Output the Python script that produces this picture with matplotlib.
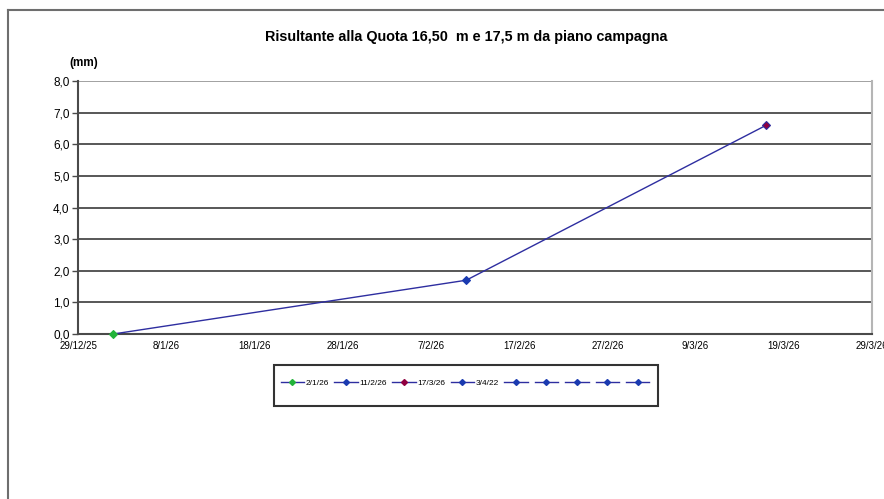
import matplotlib
matplotlib.use("Agg")
import matplotlib.pyplot as plt
from matplotlib.lines import Line2D
from matplotlib.patches import Rectangle
from datetime import datetime

plt.rcParams['font.family'] = ['Liberation Sans', 'DejaVu Sans']

# data
dates = ['2026-01-02', '2026-02-11', '2026-03-17']
values = [0.0, 1.7, 6.6]
marker_colors = ['#22b33a', '#1a3ab0', '#900040']

legend_labels = ['2/1/26', '11/2/26', '17/3/26', '3/4/22', '', '', '', '', '']
legend_marker_colors = ['#22b33a', '#1a3ab0', '#900040', '#1a3ab0',
                        '#1a3ab0', '#1a3ab0', '#1a3ab0', '#1a3ab0', '#1a3ab0']

xtick_dates = ['2025-12-29', '2026-01-08', '2026-01-18', '2026-01-28', '2026-02-07',
               '2026-02-17', '2026-02-27', '2026-03-09', '2026-03-19', '2026-03-29']
yticks = [0, 1, 2, 3, 4, 5, 6, 7, 8]

line_col = '#2e2ea0'

x = [datetime.strptime(d, '%Y-%m-%d') for d in dates]
xt = [datetime.strptime(d, '%Y-%m-%d') for d in xtick_dates]

fig = plt.figure(figsize=(8.84, 4.99), dpi=100)
ax = fig.add_axes([78/884, 1-334/499, (872-78)/884, (334-81)/499])

# outer chart frame (only top and left visible)
fig.add_artist(Line2D([8/884, 1], [1-10/499, 1-10/499], color='#6e6e6e', lw=1.5,
                      transform=fig.transFigure))
fig.add_artist(Line2D([8/884, 8/884], [0, 1-10/499], color='#6e6e6e', lw=1.5,
                      transform=fig.transFigure))

ax.set_xlim(xt[0], xt[-1])
ax.set_ylim(0, 8)

for yv in yticks[1:-1]:
    ax.axhline(yv, color='#4a4a4a', lw=1.3, zorder=1)
ax.axhline(8, color='#9a9a9a', lw=1.3, zorder=1)

ax.plot(x, values, color=line_col, lw=1.0, zorder=3)
for xi, yi, mc in zip(x, values, marker_colors):
    ax.plot([xi], [yi], marker='D', ms=4, mfc=mc, mec=line_col if mc == '#900040' else mc,
            mew=0.8, ls='none', zorder=4, clip_on=False)

ax.spines['top'].set_visible(False)
ax.spines['right'].set_color('#b5b5b5')
ax.spines['right'].set_linewidth(1.5)
ax.spines['left'].set_color('#4a4a4a')
ax.spines['left'].set_linewidth(1.5)
ax.spines['bottom'].set_color('#4a4a4a')
ax.spines['bottom'].set_linewidth(1.5)

ax.set_yticks(yticks)
ax.set_yticklabels([f'{v:.1f}'.replace('.', ',') for v in yticks], fontsize=8.5)
ax.tick_params(axis='y', length=4, width=1, color='#4a4a4a', pad=2)

ax.set_xticks(xt)
ax.set_xticklabels([f'{d.day}/{d.month}/{d.strftime("%y")}' for d in xt], fontsize=7)
ax.tick_params(axis='x', length=0, pad=5)

fig.text(466/884, 1-37/499, 'Risultante alla Quota 16,50  m e 17,5 m da piano campagna',
         ha='center', va='center', fontsize=10.4, fontweight='bold')
fig.text(84/884, 1-63/499, '(mm)', ha='center', va='center', fontsize=8.5, fontweight='bold')

# legend box drawn separately so its size matches
fig.add_artist(Rectangle((274/884, 1-406/499), (658-274)/884, (406-365)/499,
                         transform=fig.transFigure, fill=False,
                         edgecolor='#333333', lw=1.5))
handles = [Line2D([], [], color=line_col, lw=1.0, marker='D', ms=3,
                  mfc=c, mec=c) for c in legend_marker_colors]
leg = fig.legend(handles, legend_labels, ncol=9, loc='center',
                 bbox_to_anchor=(466/884, 1-383/499), fontsize=6,
                 frameon=False, handlelength=2.8, handletextpad=0.25,
                 columnspacing=0.6, borderpad=0.3)

fig.savefig('out.png', dpi=100)
